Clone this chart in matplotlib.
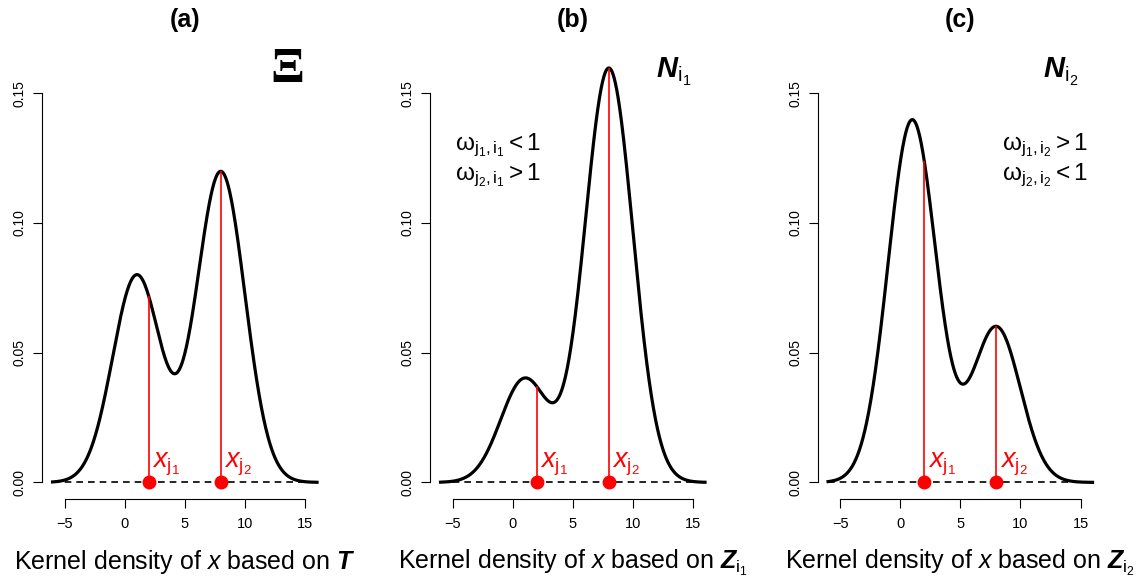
import numpy as np
import matplotlib
matplotlib.use("Agg")
import matplotlib.pyplot as plt

plt.rcParams["font.family"] = ["Liberation Sans", "DejaVu Sans"]
plt.rcParams["mathtext.fontset"] = "custom"
plt.rcParams["mathtext.rm"] = "Liberation Sans"
plt.rcParams["mathtext.it"] = "Liberation Sans:italic"
plt.rcParams["mathtext.bf"] = "Liberation Sans:bold"
plt.rcParams["mathtext.bfit"] = "Liberation Sans:bold:italic"

# two-component normal mixture behind each density curve
means = [1.0, 8.0]
sd = 2.0
weights_T = [0.4, 0.6]
weights_Z1 = [0.2, 0.8]
weights_Z2 = [0.7, 0.3]
x_obs = [2.0, 8.0]
x_from, x_to = -6.0, 16.0

panel_titles = ["(a)", "(b)", "(c)"]
panel_xlabels = [
    r"Kernel density of $\mathit{x}$ based on $\mathbfit{T}$",
    r"Kernel density of $\mathit{x}$ based on $\mathbfit{Z}_{\mathrm{i}_1}$",
    r"Kernel density of $\mathit{x}$ based on $\mathbfit{Z}_{\mathrm{i}_2}$",
]
corner_labels = [None, r"$\mathbfit{N}_{\mathrm{i}_1}$", r"$\mathbfit{N}_{\mathrm{i}_2}$"]
omega_lines = [
    None,
    [r"$\mathrm{\omega}_{\mathrm{j}_1,\mathrm{i}_1} < 1$",
     r"$\mathrm{\omega}_{\mathrm{j}_2,\mathrm{i}_1} > 1$"],
    [r"$\mathrm{\omega}_{\mathrm{j}_1,\mathrm{i}_2} > 1$",
     r"$\mathrm{\omega}_{\mathrm{j}_2,\mathrm{i}_2} < 1$"],
]
omega_x = [None, -4.8, 8.5]
obs_labels = [r"$\mathit{x}_{\mathrm{j}_1}$", r"$\mathit{x}_{\mathrm{j}_2}$"]

x_ticks = [-5, 0, 5, 10, 15]
x_ticklabels = ["\u22125", "0", "5", "10", "15"]
y_ticks = [0.0, 0.05, 0.10, 0.15]
y_ticklabels = ["0.00", "0.05", "0.10", "0.15"]


def mixture(x, w):
    out = np.zeros_like(x)
    for m, wk in zip(means, w):
        out += wk * np.exp(-0.5 * ((x - m) / sd) ** 2) / (sd * np.sqrt(2 * np.pi))
    return out


W, H = 1145.0, 583.0
fig = plt.figure(figsize=(W / 100, H / 100), dpi=100)

lefts = [42.0, 430.0, 817.5]
ax_w, ax_top, ax_bot = 285.6, 50.5, 499.0

grid = np.linspace(x_from, x_to, 600)
obs = np.array(x_obs)

for k, w in enumerate([weights_T, weights_Z1, weights_Z2]):
    ax = fig.add_axes([lefts[k] / W, (H - ax_bot) / H, ax_w / W, (ax_bot - ax_top) / H])
    ax.set_xlim(-6.88, 16.88)
    ax.set_ylim(-0.0064, 0.1664)

    ax.plot(grid, mixture(grid, w), color="black", lw=2.3, zorder=3)
    ax.plot([x_from, x_to], [0, 0], color="black", lw=1.2, dashes=(4.0, 3.0), zorder=2)
    ax.vlines(obs, 0, mixture(obs, w), color="red", lw=1.2, zorder=4)
    ax.plot(obs, np.zeros_like(obs), "o", color="red", ms=9, zorder=5)
    for xo, lab in zip(x_obs, obs_labels):
        ax.text(xo + 0.3, 0.0057, lab, color="red", fontsize=19.5, ha="left", va="baseline")

    ax.text(0.5, 1.0524, panel_titles[k], transform=ax.transAxes, ha="center",
            va="baseline", fontsize=18, fontweight="bold")
    ax.text(0.5, -0.156, panel_xlabels[k], transform=ax.transAxes, ha="center",
            va="baseline", fontsize=18)

    if corner_labels[k] is None:
        ax.text(13.5, 0.1543, "\u039e", family="Liberation Serif", fontweight="bold",
                fontsize=36, ha="center", va="baseline")
    else:
        ax.text(11.9, 0.1558, corner_labels[k], fontsize=21, ha="left", va="baseline")
    if omega_lines[k] is not None:
        for yy, line in zip([0.128, 0.1163], omega_lines[k]):
            ax.text(omega_x[k], yy, line, fontsize=17.5, ha="left", va="baseline")

    for side in ["top", "right"]:
        ax.spines[side].set_visible(False)
    ax.spines["left"].set_bounds(0, 0.15)
    ax.spines["bottom"].set_bounds(-5, 15)
    for side in ["left", "bottom"]:
        ax.spines[side].set_linewidth(0.8)
    ax.set_xticks(x_ticks)
    ax.set_xticklabels(x_ticklabels)
    ax.set_yticks(y_ticks)
    ax.set_yticklabels(y_ticklabels, rotation=90, va="center")
    ax.tick_params(axis="x", length=6.5, width=0.8, labelsize=10.5, pad=6.8)
    ax.tick_params(axis="y", length=6.5, width=0.8, labelsize=10, pad=4.3)

fig.savefig("out.png", dpi=100)
